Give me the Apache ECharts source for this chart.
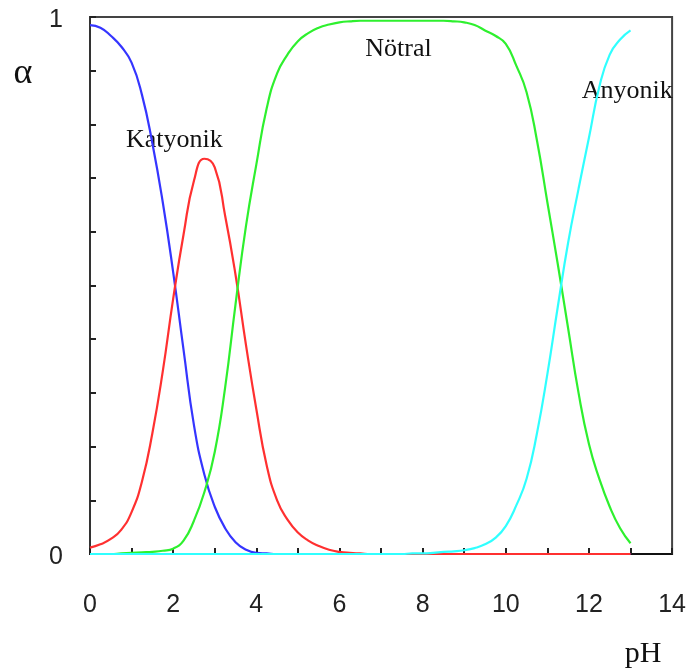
<!DOCTYPE html>
<html>
<head>
<meta charset="utf-8">
<title>Türlerin dağılımı</title>
<script src="https://cdn.jsdelivr.net/npm/echarts@6/dist/echarts.min.js"></script>
<style>
  html, body { margin: 0; padding: 0; background: #fff; }
  #chart { width: 689px; height: 671px; }
</style>
</head>
<body>
<div id="chart"></div>
<script>
// pH grid shared by every species curve
const pH = [
  0, 0.25, 0.5, 0.75, 1, 1.25, 1.5, 1.75, 2, 2.25, 2.5, 2.75, 3, 3.25, 3.5, 3.75,
  4, 4.25, 4.5, 4.75, 5, 5.25, 5.5, 5.75, 6, 6.25, 6.5, 6.75, 7, 7.25, 7.5, 7.75,
  8, 8.25, 8.5, 8.75, 9, 9.25, 9.5, 9.75, 10, 10.25, 10.5, 10.75, 11, 11.25, 11.5,
  11.75, 12, 12.25, 12.5, 12.75, 13
];

// mole fractions (alpha) of each form
const alphaBlue = [
  0.985, 0.98, 0.965, 0.945, 0.915, 0.855, 0.765, 0.655, 0.525, 0.38, 0.24, 0.148, 0.088, 0.048, 0.022, 0.008,
  0.002, 0.001, 0, 0, 0, 0, 0, 0, 0, 0, 0, 0, 0, 0, 0, 0,
  0, 0, 0, 0, 0, 0, 0, 0, 0, 0, 0, 0, 0, 0, 0,
  0, 0, 0, 0, 0, 0
];
const alphaRed = [
  0.012, 0.018, 0.028, 0.045, 0.078, 0.135, 0.225, 0.34, 0.475, 0.595, 0.695, 0.736, 0.72, 0.63, 0.52, 0.39,
  0.27, 0.165, 0.1, 0.064, 0.04, 0.025, 0.015, 0.008, 0.004, 0.002, 0.001, 0, 0, 0, 0, 0,
  0, 0, 0, 0, 0, 0, 0, 0, 0, 0, 0, 0, 0, 0, 0,
  0, 0, 0, 0, 0, 0
];
const alphaGreen = [
  0, 0, 0, 0.001, 0.002, 0.003, 0.004, 0.006, 0.01, 0.025, 0.062, 0.115, 0.19, 0.31, 0.465, 0.61,
  0.725, 0.83, 0.895, 0.93, 0.955, 0.97, 0.98, 0.986, 0.99, 0.992, 0.993, 0.993, 0.993, 0.993, 0.993, 0.993,
  0.993, 0.993, 0.993, 0.992, 0.99, 0.985, 0.975, 0.965, 0.95, 0.91, 0.86, 0.77, 0.655, 0.54, 0.42,
  0.3, 0.205, 0.14, 0.088, 0.048, 0.02
];
const alphaCyan = [
  0, 0, 0, 0, 0, 0, 0, 0, 0, 0, 0, 0, 0, 0, 0, 0,
  0, 0, 0, 0, 0, 0, 0, 0, 0, 0, 0, 0, 0, 0, 0, 0.001,
  0.001, 0.002, 0.004, 0.005, 0.007, 0.011, 0.018, 0.03, 0.052, 0.09, 0.14, 0.225, 0.335, 0.46, 0.58,
  0.68, 0.775, 0.87, 0.93, 0.958, 0.975
];

// curve annotations: text and [pH, alpha] anchor
const speciesLabels = [
  { text: 'Katyonik', at: [2.03, 0.771] },
  { text: 'Nötral', at: [7.42, 0.94] },
  { text: 'Anyonik', at: [12.92, 0.862] }
];

const xLabelsShown = [0, 2, 4, 6, 8, 10, 12, 14];
const yLabelsShown = [0, 1];

const zip = (ys) => pH.map((x, i) => [x, ys[i]]);

const chart = echarts.init(document.getElementById('chart'), null, { renderer: 'canvas' });

const lineSeries = (data, color) => ({
  type: 'line',
  data: zip(data),
  smooth: 0.5,
  showSymbol: false,
  symbol: 'none',
  lineStyle: { color: color, width: 2.2 },
  emphasis: { disabled: true },
  animation: false
});

const tickStyle = { show: true, inside: true, length: 6, lineStyle: { color: '#222', width: 2 } };

chart.setOption({
  animation: false,
  backgroundColor: '#fff',
  grid: {
    left: 90, right: 14, top: 17, bottom: 117,
    show: true, borderColor: '#444', borderWidth: 2, backgroundColor: 'transparent'
  },
  xAxis: {
    type: 'value', min: 0, max: 14, interval: 1,
    axisLine: { show: true, onZero: false, lineStyle: { color: '#111', width: 2 } },
    axisTick: tickStyle,
    splitLine: { show: false },
    axisLabel: {
      margin: 39, fontSize: 25, color: '#222', fontFamily: 'Liberation Sans',
      formatter: (v) => xLabelsShown.some((t) => Math.abs(t - v) < 1e-6) ? String(Math.round(v)) : ''
    }
  },
  yAxis: {
    type: 'value', min: 0, max: 1, interval: 0.1,
    axisLine: { show: true, onZero: false, lineStyle: { color: '#333', width: 2 } },
    axisTick: tickStyle,
    splitLine: { show: false },
    axisLabel: {
      margin: 27, color: '#222',
      rich: {
        v: { fontSize: 25, color: '#222', fontFamily: 'Liberation Sans', padding: [6, 0, 0, 0] }
      },
      formatter: (v) => yLabelsShown.some((t) => Math.abs(t - v) < 1e-6) ? '{v|' + Math.round(v) + '}' : ''
    }
  },
  series: [
    lineSeries(alphaBlue, '#3535ff'),
    lineSeries(alphaRed, '#ff3030'),
    lineSeries(alphaGreen, '#2ef02e'),
    lineSeries(alphaCyan, '#30ffff')
  ]
});

// place the species names and axis titles
const texts = speciesLabels.map((s) => {
  const p = chart.convertToPixel({ gridIndex: 0 }, s.at);
  return {
    type: 'text', x: p[0], y: p[1], silent: true,
    style: {
      text: s.text, fill: '#111', font: '26px "Liberation Serif"',
      align: 'center', verticalAlign: 'middle'
    }
  };
});
texts.push({
  type: 'text', x: 23, y: 74, silent: true,
  style: { text: 'α', fill: '#111', font: '36px "Liberation Serif"', align: 'center', verticalAlign: 'middle' }
});
texts.push({
  type: 'text', x: 643, y: 654, silent: true,
  style: { text: 'pH', fill: '#111', font: '30px "Liberation Serif"', align: 'center', verticalAlign: 'middle' }
});
chart.setOption({ graphic: texts });
</script>
</body>
</html>
